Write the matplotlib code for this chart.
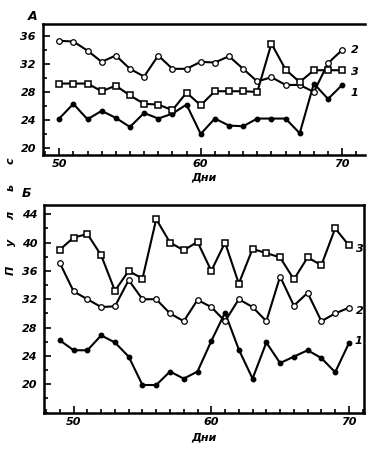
import numpy as np
import matplotlib
matplotlib.use("Agg")
import matplotlib.pyplot as plt
from matplotlib.ticker import MultipleLocator

# ---- data ----
days_a = list(range(50, 71))
a_1 = [24.2, 26.3, 24.1, 25.3, 24.3, 23.0, 25.0, 24.2, 24.9, 26.2, 22.0,
       24.2, 23.2, 23.1, 24.2, 24.2, 24.2, 22.1, 29.2, 27.0, 29.0]
a_2 = [35.3, 35.2, 33.9, 32.3, 33.2, 31.3, 30.2, 33.2, 31.3, 31.3, 32.3,
       32.2, 33.1, 31.3, 29.5, 30.1, 29.0, 29.0, 28.0, 32.1, 34.0]
a_3 = [29.2, 29.2, 29.2, 28.1, 28.9, 27.5, 26.3, 26.2, 25.4, 27.9, 26.1,
       28.1, 28.1, 28.1, 28.0, 34.9, 31.2, 29.4, 31.1, 31.1, 31.1]

days_b = list(range(49, 71))
b_1 = [26.2, 24.8, 24.8, 26.9, 25.9, 23.9, 19.9, 19.9, 21.8, 20.8, 21.8,
       26.1, 30.1, 24.9, 20.8, 25.9, 23.0, 23.9, 24.8, 23.7, 21.7, 25.8]
b_2 = [37.1, 33.1, 32.0, 30.9, 31.0, 34.7, 32.0, 32.0, 30.0, 28.9, 31.9,
       30.9, 28.9, 32.0, 30.9, 28.9, 35.2, 31.1, 32.9, 28.9, 30.0, 30.8]
b_3 = [39.0, 40.7, 41.2, 38.2, 33.2, 36.0, 34.9, 43.3, 40.0, 38.9, 40.1,
       36.0, 40.0, 34.2, 39.1, 38.5, 37.9, 34.8, 37.9, 36.8, 42.0, 39.6]

x_ticks = [50, 60, 70]
yticks_a = [20, 24, 28, 32, 36]
yticks_b = [20, 24, 28, 32, 36, 40, 44]
ylabel = "Пульс"

plt.rcParams["font.family"] = "DejaVu Sans"
TXT = dict(fontsize=8, fontstyle="italic", fontweight="bold")

fig = plt.figure(figsize=(3.67, 4.58), dpi=100)
ax_a = fig.add_axes([0.117, 0.6616, 0.877, 0.286])
ax_b = fig.add_axes([0.12, 0.099, 0.872, 0.4535])


def style_labels(ax):
    for lab in ax.get_xticklabels() + ax.get_yticklabels():
        lab.set_fontsize(8)
        lab.set_fontstyle("italic")
        lab.set_fontweight("bold")


def draw(ax, days, s1, s2, s3):
    kw = dict(color="black", lw=1.5)
    ax.plot(days, s1, marker="o", ms=3.2, mfc="black", mec="black", **kw)
    ax.plot(days, s2, marker="o", ms=4.0, mfc="white", mec="black", mew=0.9, **kw)
    ax.plot(days, s3, marker="s", ms=4.8, mfc="white", mec="black", mew=1.1, **kw)
    for s in ax.spines.values():
        s.set_linewidth(1.8)
    ax.xaxis.set_major_locator(MultipleLocator(10))
    ax.xaxis.set_minor_locator(MultipleLocator(1))
    ax.yaxis.set_minor_locator(MultipleLocator(2))
    ax.tick_params(which="both", direction="in", width=1.2)
    ax.tick_params(which="major", length=5)
    ax.tick_params(which="minor", length=3)
    ax.tick_params(axis="x", pad=3)
    ax.tick_params(axis="y", pad=5)


# ---- panel A ----
draw(ax_a, days_a, a_1, a_2, a_3)
ax_a.set_xlim(48.85, 71.6)
ax_a.set_ylim(19.0, 37.7)
ax_a.set_xticks(x_ticks)
ax_a.set_yticks(yticks_a)
ax_a.spines["right"].set_visible(False)
style_labels(ax_a)
ax_a.set_xlabel("Дни", labelpad=2, **TXT)
ax_a.text(70.6, a_2[-1], "2", va="center", ha="left", **TXT)
ax_a.text(70.6, 30.8, "3", va="center", ha="left", **TXT)
ax_a.text(70.6, 27.8, "1", va="center", ha="left", **TXT)

# ---- panel Б ----
draw(ax_b, days_b, b_1, b_2, b_3)
ax_b.set_xlim(47.85, 71.1)
ax_b.set_ylim(16.0, 45.3)
ax_b.set_xticks(x_ticks)
ax_b.set_yticks(yticks_b)
style_labels(ax_b)
ax_b.set_xlabel("Дни", labelpad=4, **TXT)
ax_b.text(70.5, b_3[-1] - 0.5, "3", va="center", ha="left", **TXT)
ax_b.text(70.5, 30.3, "2", va="center", ha="left", **TXT)
ax_b.text(70.4, 26.1, "1", va="center", ha="left", **TXT)

# panel letters
fig.text(0.075, 0.965, "А", ha="left", va="center", fontsize=9,
         fontstyle="italic", fontweight="bold")
fig.text(0.06, 0.578, "Б", ha="left", va="center", fontsize=9,
         fontstyle="italic", fontweight="bold")

# shared, widely spaced y label (bottom to top)
for i, ch in enumerate(ylabel):
    fig.text(0.03, 0.41 + i * 0.06, ch, rotation=90, ha="center", va="center",
             fontsize=8, fontstyle="italic", fontweight="bold")

fig.savefig("out.png", dpi=100)
